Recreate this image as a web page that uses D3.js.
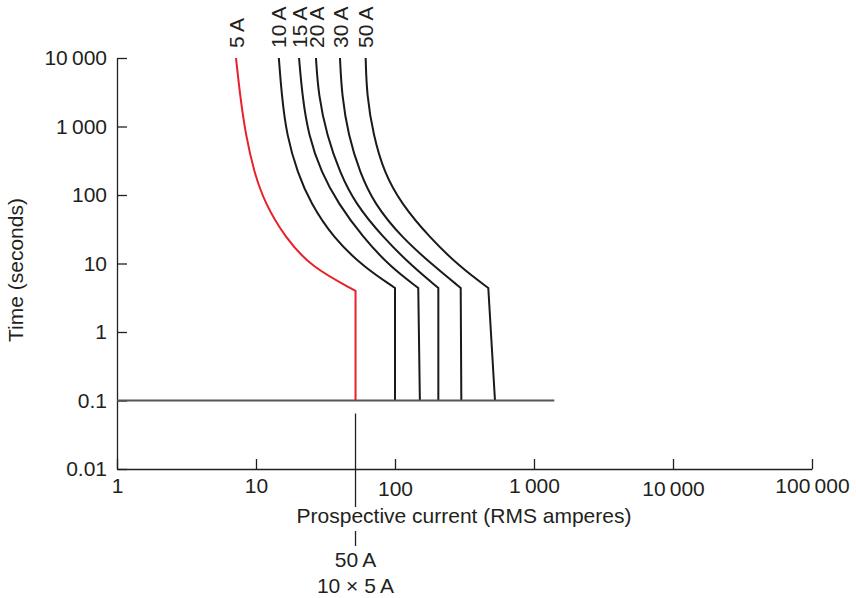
<!DOCTYPE html>
<meta charset="utf-8">
<style>

body {
  margin: 0;
  background: #fff;
}

text {
  font-family: "Liberation Sans", Arial, Helvetica, sans-serif;
  font-size: 21px;
  fill: #231f20;
}

.axis path,
.axis line {
  stroke: #231f20;
  stroke-width: 1.3px;
}

.fuse {
  fill: none;
  stroke: #1a1a1a;
  stroke-width: 2px;
}

</style>
<body>
<script src="https://cdn.jsdelivr.net/npm/d3@7"></script>
<script>

// time samples (s) shared by every curve, then the current (A) each fuse needs
var curveTimes = [10000, 2900, 750, 210, 76, 24, 8.9];
var fuseLabels = ["5\u2009A", "10\u2009A", "15\u2009A", "20\u2009A", "30\u2009A", "50\u2009A"];
var current5A  = [7.18, 7.67, 8.43, 9.72, 11.6, 16.2, 24.9];
var current10A = [14.6, 15.3, 16.6, 19.9, 24.7, 35.8, 59.4];
var current15A = [20.4, 21.5, 23.8, 29.6, 38.9, 58.9, 92.8];
var current20A = [27.0, 28.1, 32.3, 40.2, 51.6, 82.0, 134.8];
var current30A = [40.2, 41.4, 46.1, 56.0, 70.6, 111.4, 194];
var current50A = [61.5, 62.6, 69.8, 83.8, 110.4, 177.1, 293.6];
var kneeTime    = [4.0, 4.4, 4.4, 4.4, 4.4, 4.4];
var kneeCurrent = [52, 100, 147, 205, 297, 469];
var clearCurrent = [52, 100, 151, 205, 300, 524];
var cutoffTime = 0.1,
    cutoffRange = [1, 1400],
    markerCurrent = 52;

var xTicks = [1, 10, 100, 1000, 10000, 100000],
    xTickLabels = ["1", "10", "100", "1\u2009000", "10\u2009000", "100\u2009000"],
    yTicks = [0.01, 0.1, 1, 10, 100, 1000, 10000],
    yTickLabels = ["0.01", "0.1", "1", "10", "100", "1\u2009000", "10\u2009000"];

var w = 856,
    h = 598;

var x = d3.scaleLog().domain([1, 100000]).range([117, 812]),
    y = d3.scaleLog().domain([0.01, 10000]).range([469, 58]);

var svg = d3.select("body").append("svg")
    .attr("width", w)
    .attr("height", h);

// axes, ticks point inward
svg.append("g")
    .attr("class", "axis")
    .attr("transform", "translate(0," + y(0.01) + ")")
    .call(d3.axisBottom(x)
        .tickValues(xTicks)
        .tickFormat(function(d, i) { return xTickLabels[i]; })
        .tickSizeInner(-10)
        .tickSizeOuter(0)
        .tickPadding(9))
    .call(function(g) {
      g.selectAll("text")
          .style("font-size", "21px")
          .attr("fill", "#231f20")
          .attr("y", function(d, i) { return (i == 2 || i == 4) ? 12 : 9; });
    });

svg.append("g")
    .attr("class", "axis")
    .attr("transform", "translate(" + x(1) + ",0)")
    .call(d3.axisLeft(y)
        .tickValues(yTicks)
        .tickFormat(function(d, i) { return yTickLabels[i]; })
        .tickSizeInner(-10)
        .tickSizeOuter(0)
        .tickPadding(10))
    .call(function(g) {
      g.selectAll("text")
          .style("font-size", "21px")
          .attr("fill", "#231f20");
    });

// curves
var series = [current5A, current10A, current15A, current20A, current30A, current50A];

var bend = d3.line()
    .x(function(d) { return x(d[0]); })
    .y(function(d) { return y(d[1]); })
    .curve(d3.curveBasis);

var straight = d3.line()
    .x(function(d) { return x(d[0]); })
    .y(function(d) { return y(d[1]); });

series.forEach(function(cur, i) {
  var pts = cur.map(function(c, j) { return [c, curveTimes[j]]; });
  pts.push([kneeCurrent[i], kneeTime[i]]);
  var drop = straight([[kneeCurrent[i], kneeTime[i]], [clearCurrent[i], cutoffTime]]);
  svg.append("path")
      .attr("class", "fuse")
      .attr("d", bend(pts) + "L" + drop.slice(drop.indexOf("L") + 1))
      .style("stroke", i == 0 ? "#e8202a" : null);

  svg.append("text")
      .attr("transform", "translate(" + x(cur[0]) + "," + (y(curveTimes[0]) - 10) + ") rotate(-90)")
      .attr("dy", "0.36em")
      .text(fuseLabels[i]);
});

// 0.1 s line
svg.append("line")
    .attr("x1", x(cutoffRange[0]))
    .attr("x2", x(cutoffRange[1]))
    .attr("y1", y(cutoffTime))
    .attr("y2", y(cutoffTime))
    .style("stroke", "#555")
    .style("stroke-width", "1.8px");

// 50 A marker
svg.append("line")
    .attr("x1", x(markerCurrent)).attr("x2", x(markerCurrent))
    .attr("y1", y(cutoffTime) + 13).attr("y2", 507)
    .style("stroke", "#231f20")
    .style("stroke-width", "1.3px");

svg.append("line")
    .attr("x1", x(markerCurrent)).attr("x2", x(markerCurrent))
    .attr("y1", 531).attr("y2", 546)
    .style("stroke", "#231f20")
    .style("stroke-width", "1.3px");

svg.append("text")
    .attr("x", x(markerCurrent))
    .attr("y", 567)
    .attr("text-anchor", "middle")
    .text("50\u2009A");

svg.append("text")
    .attr("x", x(markerCurrent))
    .attr("y", 593)
    .attr("text-anchor", "middle")
    .text("10 \u00d7 5\u2009A");

// axis titles
svg.append("text")
    .attr("x", 464)
    .attr("y", 523)
    .attr("text-anchor", "middle")
    .text("Prospective current (RMS amperes)");

svg.append("text")
    .attr("transform", "translate(23,270) rotate(-90)")
    .attr("text-anchor", "middle")
    .text("Time (seconds)");

</script>
